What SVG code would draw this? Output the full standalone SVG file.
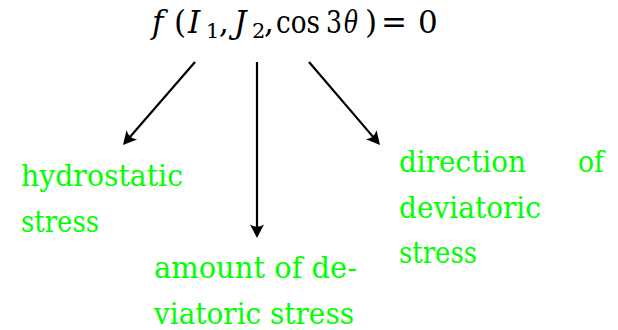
<svg xmlns="http://www.w3.org/2000/svg" width="618" height="330" viewBox="0 0 618 330">
<style>
.m{font-family:"DejaVu Serif",serif;font-size:31px;fill:#000}
.i{font-style:italic}
.s{font-size:21px}
.g{font-family:"DejaVu Serif",serif;font-size:29px;fill:#00ff00}
.c{stroke:#000;stroke-width:2.2;fill:none;marker-end:url(#ah)}
</style>
<defs>
<marker id="ah" markerUnits="userSpaceOnUse" viewBox="-8 -8 16 16" markerWidth="16" markerHeight="16" refX="0" refY="0" orient="auto" overflow="visible">
<path d="M6,0 L-7.5,-7 Q-3,0 -7.5,7 Z" fill="#000"/>
</marker>
</defs>
<rect width="618" height="330" fill="#fff"/>
<g id="formula">
<text class="m" y="33"><tspan class="i" x="152">f</tspan><tspan x="174">(</tspan><tspan class="i" x="188">I</tspan><tspan class="s" x="206" y="38">1</tspan><tspan x="219" y="33">,</tspan><tspan class="i" x="234">J</tspan><tspan class="s" x="252" y="38">2</tspan><tspan x="264" y="33">,</tspan><tspan x="276" textLength="44" lengthAdjust="spacingAndGlyphs">cos</tspan><tspan x="326" textLength="16" lengthAdjust="spacingAndGlyphs">3</tspan><tspan class="i" x="344" textLength="14" lengthAdjust="spacingAndGlyphs">θ</tspan><tspan x="365">)</tspan><tspan x="381">=</tspan><tspan x="418">0</tspan></text>
</g>
<g id="connectors">
<line class="c" x1="195" y1="62" x2="126.9" y2="140.5"/>
<line class="c" x1="257" y1="62" x2="257" y2="232"/>
<line class="c" x1="309" y1="62" x2="376.1" y2="140.4"/>
</g>
<g id="hydrostatic">
<text class="g" x="21" y="186" textLength="162" lengthAdjust="spacingAndGlyphs">hydrostatic</text>
<text class="g" x="21" y="232" textLength="78" lengthAdjust="spacingAndGlyphs">stress</text>
</g>
<g id="amount">
<text class="g" x="154" y="278" textLength="203" lengthAdjust="spacingAndGlyphs">amount of de-</text>
<text class="g" x="154" y="324" textLength="200" lengthAdjust="spacingAndGlyphs">viatoric stress</text>
</g>
<g id="direction">
<text class="g" x="399" y="172" textLength="127" lengthAdjust="spacingAndGlyphs">direction</text>
<text class="g" x="578" y="172" textLength="26" lengthAdjust="spacingAndGlyphs">of</text>
<text class="g" x="399" y="218" textLength="142" lengthAdjust="spacingAndGlyphs">deviatoric</text>
<text class="g" x="399" y="263" textLength="78" lengthAdjust="spacingAndGlyphs">stress</text>
</g>
</svg>
